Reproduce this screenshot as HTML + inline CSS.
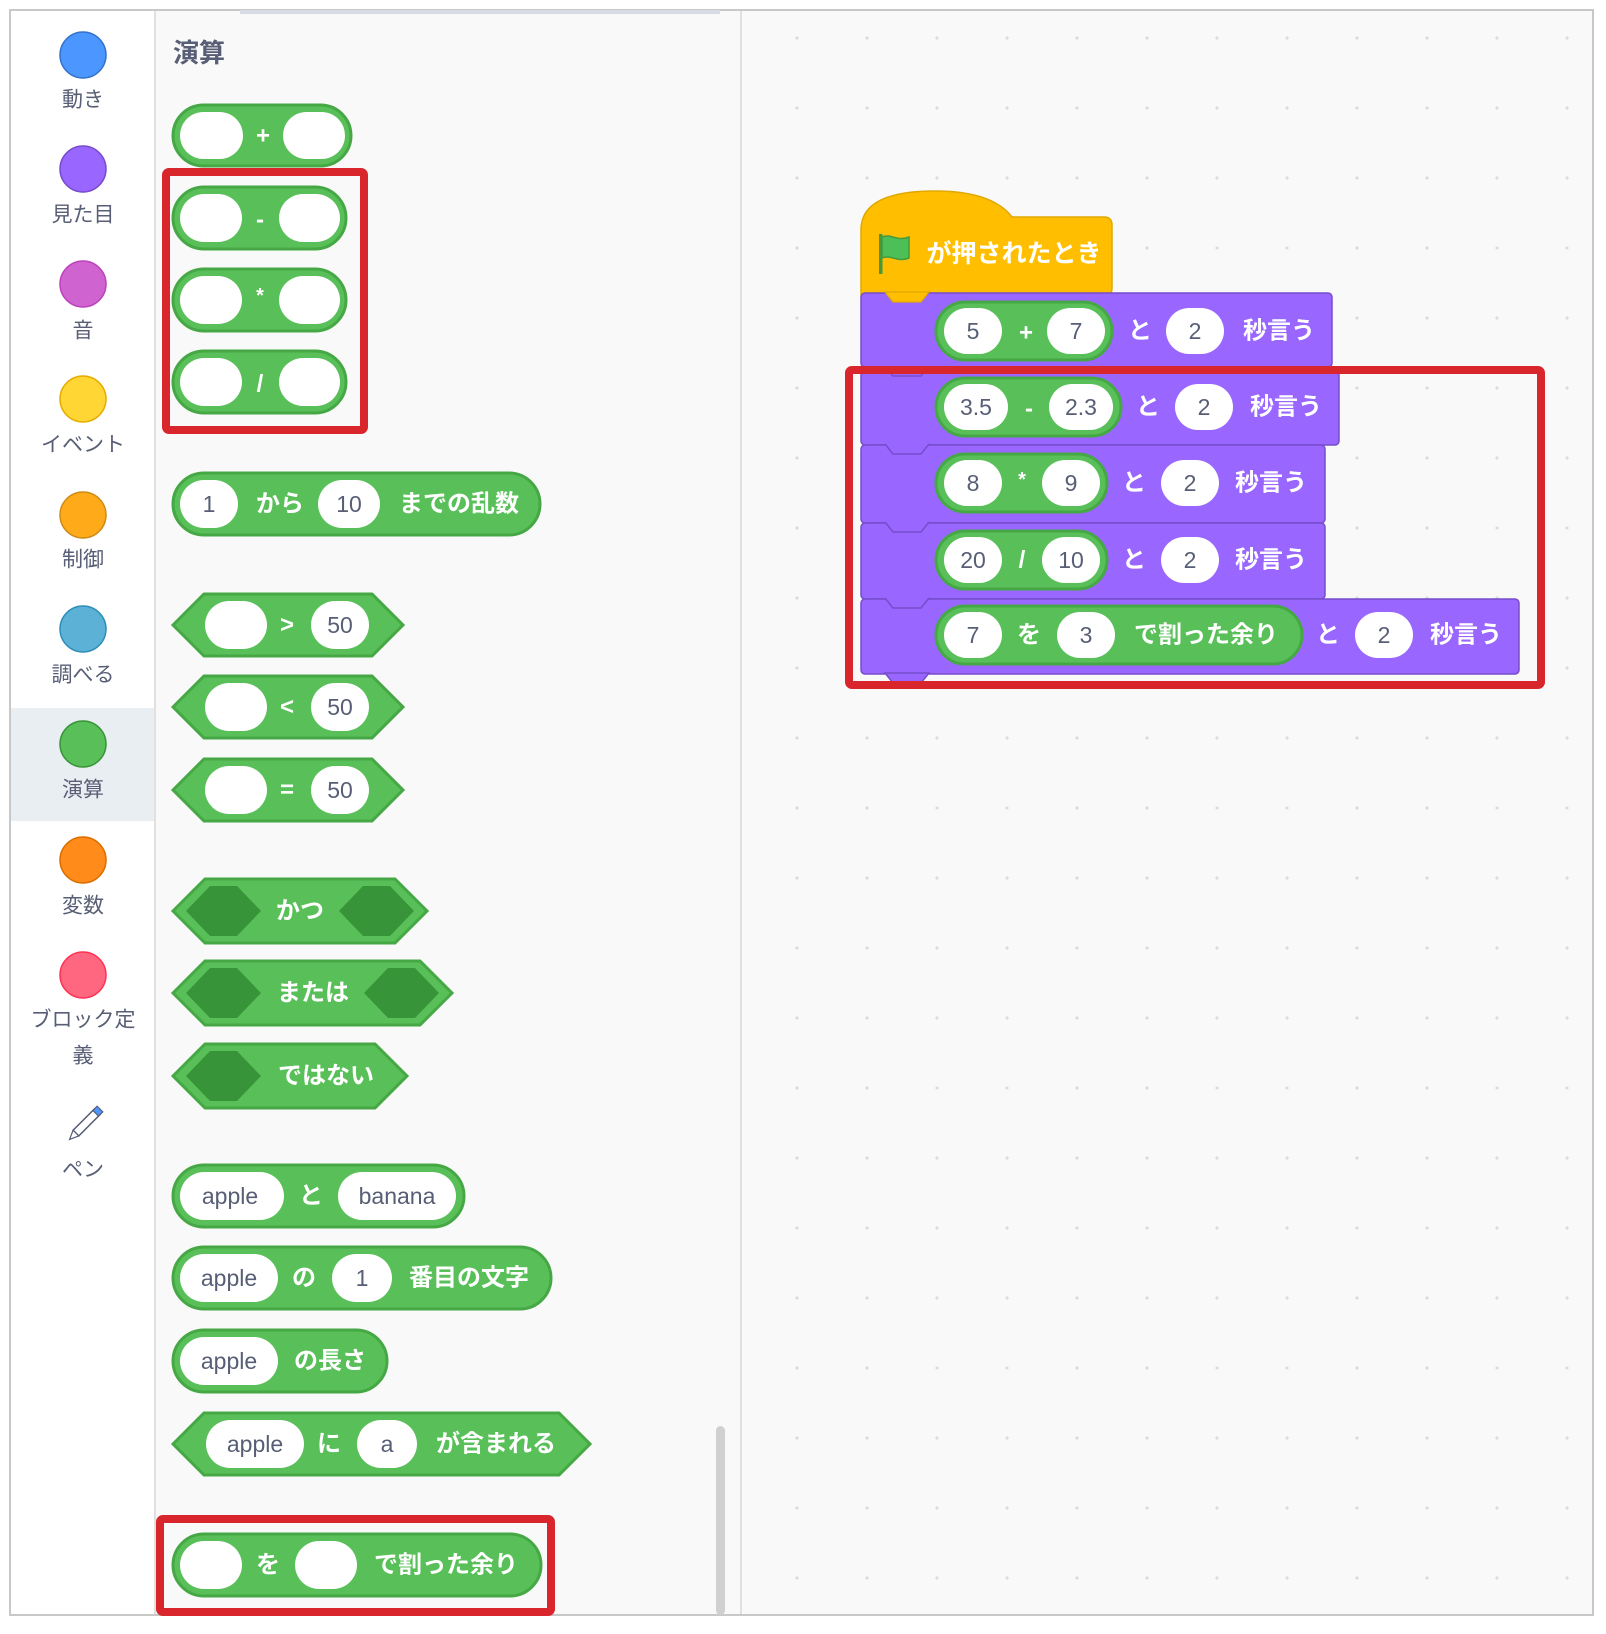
<!DOCTYPE html>
<html><head><meta charset="utf-8"><style>
html,body{margin:0;padding:0;background:#fff;}
svg{display:block}
text{font-family:"Liberation Sans","Noto Sans CJK JP",sans-serif;}
.w{fill:#fff;font-weight:bold;font-size:24px;text-anchor:middle;dominant-baseline:central}
.i{fill:#575e75;font-size:23px;text-anchor:middle;dominant-baseline:central}
.c{fill:#575e75;font-size:21px;text-anchor:middle;dominant-baseline:central}
.rep{fill:#59c059;stroke:#45a845;stroke-width:3}
.inp{fill:#fff}
.dk{fill:#389438}
.pur{fill:#9966ff;stroke:#774dcb;stroke-width:1.5}
.red{fill:none;stroke:#d9262c;stroke-width:8}
</style></head><body>
<svg width="1606" height="1634" viewBox="0 0 1606 1634" xmlns="http://www.w3.org/2000/svg">
<defs>
<pattern id="dots" x="0" y="0" width="70" height="70" patternUnits="userSpaceOnUse">
<circle cx="27" cy="38" r="1.6" fill="#dcdcdc"/>
</pattern>
</defs>
<rect x="0" y="0" width="1606" height="1634" fill="#fff"/>
<rect x="10" y="10" width="1583" height="1605" fill="#f9f9f9" stroke="#c8c8c8" stroke-width="2"/>
<rect x="11" y="11" width="144" height="1603" fill="#fff"/>
<rect x="11" y="708" width="144" height="113" fill="#e9eef2"/>
<line x1="155" y1="11" x2="155" y2="1614" stroke="#e0e0e0" stroke-width="2"/>
<line x1="741" y1="11" x2="741" y2="1614" stroke="#e0e0e0" stroke-width="2"/>
<rect x="742" y="11" width="850" height="1603" fill="url(#dots)"/>
<rect x="240" y="10" width="480" height="4" fill="#d6dce4"/>
<rect x="716" y="1426" width="9" height="189" rx="4.5" fill="#d0d0d0"/>

<circle cx="83" cy="55" r="23" fill="#4c97ff" stroke="#3373cc" stroke-width="1.5"/>
<text class="c" x="83" y="100">動き</text>
<circle cx="83" cy="169" r="23" fill="#9966ff" stroke="#774dcb" stroke-width="1.5"/>
<text class="c" x="83" y="215">見た目</text>
<circle cx="83" cy="284" r="23" fill="#cf63cf" stroke="#bd42bd" stroke-width="1.5"/>
<text class="c" x="83" y="331">音</text>
<circle cx="83" cy="399" r="23" fill="#ffd633" stroke="#e6ac00" stroke-width="1.5"/>
<text class="c" x="83" y="445">イベント</text>
<circle cx="83" cy="515" r="23" fill="#ffab19" stroke="#cf8b17" stroke-width="1.5"/>
<text class="c" x="83" y="560">制御</text>
<circle cx="83" cy="629" r="23" fill="#5cb1d6" stroke="#2e8eb8" stroke-width="1.5"/>
<text class="c" x="83" y="675">調べる</text>
<circle cx="83" cy="744" r="23" fill="#59c059" stroke="#389438" stroke-width="1.5"/>
<text class="c" x="83" y="790">演算</text>
<circle cx="83" cy="860" r="23" fill="#ff8c1a" stroke="#db6e00" stroke-width="1.5"/>
<text class="c" x="83" y="906">変数</text>
<circle cx="83" cy="975" r="23" fill="#ff6680" stroke="#ff3355" stroke-width="1.5"/>
<text class="c" x="83" y="1020">ブロック定</text>
<text class="c" x="83" y="1056">義</text>
<g transform="translate(83,1126) rotate(45)">
<rect x="-4" y="-20" width="8" height="30" fill="#fff" stroke="#575e75" stroke-width="1.5"/>
<rect x="-4" y="-24" width="8" height="6" fill="#4c97ff" stroke="#575e75" stroke-width="1.2"/>
<path d="M-4,10 L0,19 L4,10 Z" fill="#fff" stroke="#575e75" stroke-width="1.2"/>
</g>
<text class="c" x="83" y="1170">ペン</text>

<text x="173" y="62" style="font-size:26px;font-weight:bold;fill:#575e75">演算</text>

<rect class="rep" x="173" y="105" width="178" height="61" rx="30.5"/>
<rect class="inp" x="180" y="112" width="63" height="47" rx="23.5"/>
<rect class="inp" x="283" y="112" width="62" height="47" rx="23.5"/>
<text class="w" x="263" y="136">+</text>

<rect class="rep" x="173" y="187" width="173" height="62" rx="31"/>
<rect class="inp" x="180" y="194" width="62" height="48" rx="24"/>
<rect class="inp" x="279" y="194" width="61" height="48" rx="24"/>
<text class="w" x="260" y="220">-</text>

<rect class="rep" x="173" y="269" width="173" height="62" rx="31"/>
<rect class="inp" x="180" y="276" width="62" height="48" rx="24"/>
<rect class="inp" x="279" y="276" width="61" height="48" rx="24"/>
<text class="w" x="260" y="296" style="font-size:20px">*</text>

<rect class="rep" x="173" y="351" width="173" height="62" rx="31"/>
<rect class="inp" x="180" y="358" width="62" height="48" rx="24"/>
<rect class="inp" x="279" y="358" width="61" height="48" rx="24"/>
<text class="w" x="260" y="384">/</text>

<rect class="red" x="166" y="172" width="198" height="258" rx="3"/>

<rect class="rep" x="173" y="473" width="367" height="62" rx="31"/>
<rect class="inp" x="180" y="480" width="58" height="48" rx="24"/>
<text class="i" x="209" y="504">1</text>
<text class="w" x="280" y="504">から</text>
<rect class="inp" x="318" y="480" width="62" height="48" rx="24"/>
<text class="i" x="349" y="504">10</text>
<text class="w" x="459" y="504">までの乱数</text>

<polygon class="rep" points="173,625 204,594 372,594 403,625 372,656 204,656"/>
<rect class="inp" x="205" y="601" width="62" height="48" rx="24"/>
<text class="w" x="287" y="625">&gt;</text>
<rect class="inp" x="311" y="601" width="58" height="48" rx="24"/>
<text class="i" x="340" y="625">50</text>

<polygon class="rep" points="173,707 204,676 372,676 403,707 372,738 204,738"/>
<rect class="inp" x="205" y="683" width="62" height="48" rx="24"/>
<text class="w" x="287" y="707">&lt;</text>
<rect class="inp" x="311" y="683" width="58" height="48" rx="24"/>
<text class="i" x="340" y="707">50</text>

<polygon class="rep" points="173,790 204,759 372,759 403,790 372,821 204,821"/>
<rect class="inp" x="205" y="766" width="62" height="48" rx="24"/>
<text class="w" x="287" y="790">=</text>
<rect class="inp" x="311" y="766" width="58" height="48" rx="24"/>
<text class="i" x="340" y="790">50</text>

<polygon class="rep" points="173,911 205,879 395,879 427,911 395,943 205,943"/>
<polygon class="dk" points="186,911 210,886 237,886 261,911 237,936 210,936"/>
<polygon class="dk" points="339,911 363,886 390,886 414,911 390,936 363,936"/>
<text class="w" x="300" y="911">かつ</text>

<polygon class="rep" points="173,993 205,961 420,961 452,993 420,1025 205,1025"/>
<polygon class="dk" points="186,993 210,968 237,968 261,993 237,1018 210,1018"/>
<polygon class="dk" points="364,993 388,968 415,968 439,993 415,1018 388,1018"/>
<text class="w" x="313" y="993">または</text>

<polygon class="rep" points="173,1076 205,1044 375,1044 407,1076 375,1108 205,1108"/>
<polygon class="dk" points="186,1076 210,1051 237,1051 261,1076 237,1101 210,1101"/>
<text class="w" x="326" y="1076">ではない</text>

<rect class="rep" x="173" y="1165" width="291" height="62" rx="31"/>
<rect class="inp" x="180" y="1172" width="104" height="48" rx="24"/>
<text class="i" x="230" y="1196">apple</text>
<text class="w" x="311" y="1196">と</text>
<rect class="inp" x="338" y="1172" width="118" height="48" rx="24"/>
<text class="i" x="397" y="1196">banana</text>

<rect class="rep" x="173" y="1247" width="378" height="62" rx="31"/>
<rect class="inp" x="180" y="1254" width="98" height="48" rx="24"/>
<text class="i" x="229" y="1278">apple</text>
<text class="w" x="304" y="1278">の</text>
<rect class="inp" x="332" y="1254" width="60" height="48" rx="24"/>
<text class="i" x="362" y="1278">1</text>
<text class="w" x="469" y="1278">番目の文字</text>

<rect class="rep" x="173" y="1330" width="214" height="62" rx="31"/>
<rect class="inp" x="180" y="1337" width="98" height="48" rx="24"/>
<text class="i" x="229" y="1361">apple</text>
<text class="w" x="330" y="1361">の長さ</text>

<polygon class="rep" points="173,1444 204,1413 559,1413 590,1444 559,1475 204,1475"/>
<rect class="inp" x="206" y="1420" width="98" height="48" rx="24"/>
<text class="i" x="255" y="1444">apple</text>
<text class="w" x="329" y="1444">に</text>
<rect class="inp" x="357" y="1420" width="60" height="48" rx="24"/>
<text class="i" x="387" y="1444">a</text>
<text class="w" x="496" y="1444">が含まれる</text>

<rect class="rep" x="173" y="1534" width="368" height="62" rx="31"/>
<rect class="inp" x="180" y="1541" width="62" height="48" rx="24"/>
<text class="w" x="268" y="1565">を</text>
<rect class="inp" x="295" y="1541" width="62" height="48" rx="24"/>
<text class="w" x="446" y="1565">で割った余り</text>

<rect class="red" x="160" y="1519" width="391" height="93" rx="3"/>

<!-- hat -->
<path d="M861,296 L861,230 Q861,191 935,191 Q992,191 1012,217 L1104,217 Q1112,217 1112,225 L1112,288 Q1112,296 1104,296 Z" fill="#ffbf00" stroke="#e0a800" stroke-width="1.5"/>
<g transform="translate(879,234)">
<rect x="0" y="0" width="3.5" height="40" fill="#45993d"/>
<path d="M3,3 C12,-1 18,8 30,3 L30,24 C18,29 12,20 3,24 Z" fill="#4cbf56" stroke="#45993d" stroke-width="1.5"/>
</g>
<text class="w" x="1014" y="254" style="font-size:25px">が押されたとき</text>

<rect class="pur" x="861" y="293" width="471" height="74" rx="4"/>
<rect class="pur" x="861" y="367" width="478" height="78" rx="4"/>
<rect class="pur" x="861" y="445" width="464" height="78" rx="4"/>
<rect class="pur" x="861" y="523" width="464" height="76" rx="4"/>
<rect class="pur" x="861" y="599" width="658" height="75" rx="4"/>
<path d="M885,292 L893,302 L921,302 L929,292 Z" fill="#ffbf00" stroke="#e0a800" stroke-width="1.2"/>
<path d="M885,366 L893,376 L921,376 L929,366" fill="#9966ff" stroke="#774dcb" stroke-width="1.5"/>
<path d="M885,444 L893,454 L921,454 L929,444" fill="#9966ff" stroke="#774dcb" stroke-width="1.5"/>
<path d="M885,522 L893,532 L921,532 L929,522" fill="#9966ff" stroke="#774dcb" stroke-width="1.5"/>
<path d="M885,598 L893,608 L921,608 L929,598" fill="#9966ff" stroke="#774dcb" stroke-width="1.5"/>
<path d="M885,673 L893,683 L921,683 L929,673 Z" fill="#9966ff" stroke="#774dcb" stroke-width="1.5"/>

<rect class="rep" x="936" y="302" width="176" height="58" rx="29"/>
<rect class="inp" x="944" y="308" width="58" height="46" rx="23"/>
<text class="i" x="973" y="331">5</text>
<text class="w" x="1026" y="333">+</text>
<rect class="inp" x="1047" y="308" width="58" height="46" rx="23"/>
<text class="i" x="1076" y="331">7</text>
<text class="w" x="1140" y="331">と</text>
<rect class="inp" x="1166" y="308" width="58" height="46" rx="23"/>
<text class="i" x="1195" y="331">2</text>
<text class="w" x="1279" y="331">秒言う</text>

<rect class="rep" x="936" y="378" width="185" height="58" rx="29"/>
<rect class="inp" x="944" y="384" width="64" height="46" rx="23"/>
<text class="i" x="976" y="407">3.5</text>
<text class="w" x="1029" y="409">-</text>
<rect class="inp" x="1049" y="384" width="64" height="46" rx="23"/>
<text class="i" x="1081" y="407">2.3</text>
<text class="w" x="1148" y="407">と</text>
<rect class="inp" x="1175" y="384" width="58" height="46" rx="23"/>
<text class="i" x="1204" y="407">2</text>
<text class="w" x="1286" y="407">秒言う</text>

<rect class="rep" x="936" y="454" width="171" height="58" rx="29"/>
<rect class="inp" x="944" y="460" width="58" height="46" rx="23"/>
<text class="i" x="973" y="483">8</text>
<text class="w" x="1022" y="480" style="font-size:20px">*</text>
<rect class="inp" x="1042" y="460" width="58" height="46" rx="23"/>
<text class="i" x="1071" y="483">9</text>
<text class="w" x="1134" y="483">と</text>
<rect class="inp" x="1161" y="460" width="58" height="46" rx="23"/>
<text class="i" x="1190" y="483">2</text>
<text class="w" x="1271" y="483">秒言う</text>

<rect class="rep" x="936" y="531" width="171" height="58" rx="29"/>
<rect class="inp" x="944" y="537" width="58" height="46" rx="23"/>
<text class="i" x="973" y="560">20</text>
<text class="w" x="1022" y="560">/</text>
<rect class="inp" x="1042" y="537" width="58" height="46" rx="23"/>
<text class="i" x="1071" y="560">10</text>
<text class="w" x="1134" y="560">と</text>
<rect class="inp" x="1161" y="537" width="58" height="46" rx="23"/>
<text class="i" x="1190" y="560">2</text>
<text class="w" x="1271" y="560">秒言う</text>

<rect class="rep" x="936" y="606" width="366" height="58" rx="29"/>
<rect class="inp" x="944" y="612" width="58" height="46" rx="23"/>
<text class="i" x="973" y="635">7</text>
<text class="w" x="1029" y="635">を</text>
<rect class="inp" x="1057" y="612" width="58" height="46" rx="23"/>
<text class="i" x="1086" y="635">3</text>
<text class="w" x="1206" y="635">で割った余り</text>
<text class="w" x="1328" y="635">と</text>
<rect class="inp" x="1355" y="612" width="58" height="46" rx="23"/>
<text class="i" x="1384" y="635">2</text>
<text class="w" x="1466" y="635">秒言う</text>

<rect class="red" x="849" y="370" width="692" height="315" rx="3"/>
</svg>
</body></html>
